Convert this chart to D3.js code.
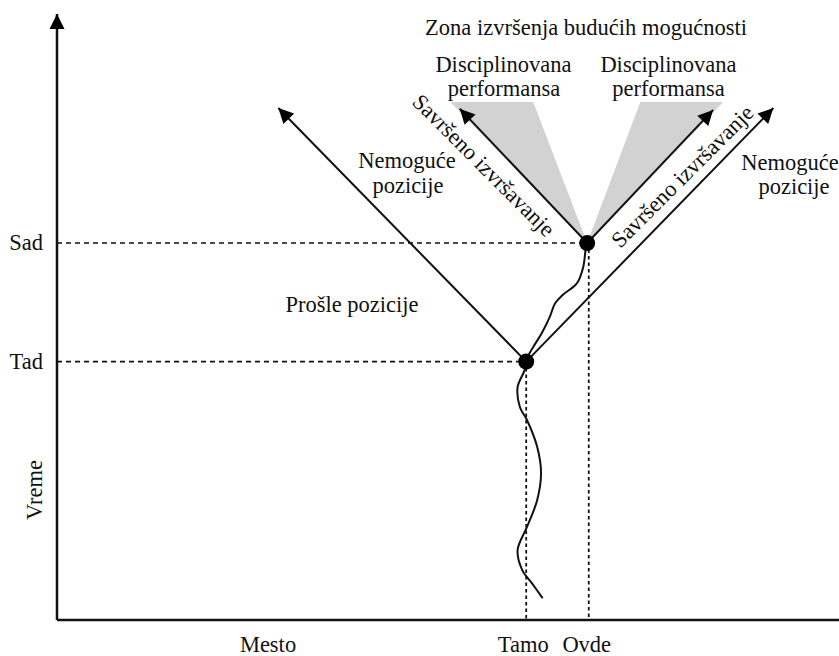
<!DOCTYPE html>
<html>
<head>
<meta charset="utf-8">
<script src="https://cdn.jsdelivr.net/npm/d3@7"></script>
<style>
  body { margin: 0; background: #fff; }
  svg text { font-family: "Liberation Serif", "Times New Roman", Times, "DejaVu Serif", serif; fill: #111; }
</style>
</head>
<body>
<svg id="chart" width="839" height="656"></svg>
<script>
// place (x) and time (y) are both in 0..100 diagram units
const placeTicks = ["Tamo", "Ovde"];
const placeValues = [60, 68];
const timeTicks = ["Tad", "Sad"];
const timeValues = [42.5, 62];

// the two moments (Tad -> Tamo, Sad -> Ovde)
const moments = [[60, 42.5], [67.8, 62]];

// light-cone arrows: start moment and arrow tip
const arrowFrom = [[60, 42.5], [60, 42.5], [67.8, 62], [67.8, 62]];
const arrowTo = [[28.3, 84.2], [91.6, 84.2], [51.5, 84.1], [83.9, 83.9]];

// grey zones of disciplined performance
const cones = [
  [[67.8, 62], [50.3, 85.2], [60.9, 85.2]],
  [[67.8, 62], [74.6, 85.2], [85.2, 85.2]]
];

// wandering path of past positions
const pastTrail = [
  [62.1, 3.6], [60.7, 6.1], [59.5, 8.2], [58.9, 11.5], [60.1, 15.3], [61.4, 19.7],
  [61.9, 24.2], [61.4, 28.5], [60.1, 32.9], [59.2, 35.0], [58.9, 38.3], [59.8, 41.1], [60, 42.5]
];
const recentTrail = [
  [60, 42.5], [60.2, 43.3], [60.9, 44.9], [62.0, 47.2], [63.0, 49.8], [63.7, 52.1],
  [64.7, 53.5], [66.5, 55.4], [67.3, 58.1], [67.6, 60.9], [67.8, 62]
];

const svg = d3.select("#chart");
const W = 839, H = 656;
const fs = "22.5px";

var x = d3.scaleLinear().domain([0, 100]).range([57, 839]);
var y = d3.scaleLinear().domain([0, 100]).range([620, 12]);

// arrow head
svg.append("defs").append("marker")
  .attr("id", "head")
  .attr("markerUnits", "userSpaceOnUse")
  .attr("viewBox", "-16 -8 17 16")
  .attr("refX", 0).attr("refY", 0)
  .attr("markerWidth", 17).attr("markerHeight", 16)
  .attr("orient", "auto")
  .append("path")
  .attr("d", "M0,0 L-15,-7.5 L-15,7.5 Z")
  .attr("fill", "#000");

// grey cones
svg.selectAll(".cone")
  .data(cones)
  .enter().append("path")
  .attr("class", "cone")
  .attr("d", d => "M" + d.map(p => x(p[0]) + "," + y(p[1])).join("L") + "Z")
  .attr("fill", "#d2d2d2");

// dashed guides
svg.selectAll(".hguide")
  .data(timeValues)
  .enter().append("line")
  .attr("class", "hguide")
  .attr("x1", x(0)).attr("x2", (d, i) => x(placeValues[i]))
  .attr("y1", d => y(d)).attr("y2", d => y(d))
  .attr("stroke", "#111").attr("stroke-width", 1.6)
  .attr("stroke-dasharray", "5,4");

svg.selectAll(".vguide")
  .data(placeValues)
  .enter().append("line")
  .attr("class", "vguide")
  .attr("x1", d => x(d)).attr("x2", d => x(d))
  .attr("y1", (d, i) => y(timeValues[i])).attr("y2", y(0))
  .attr("stroke", "#111").attr("stroke-width", 1.8)
  .attr("stroke-dasharray", "3.5,3");

// axes
svg.append("line")
  .attr("x1", x(0)).attr("y1", y(0)).attr("x2", W).attr("y2", y(0))
  .attr("stroke", "#111").attr("stroke-width", 2.5);
svg.append("line")
  .attr("x1", x(0)).attr("y1", y(0)).attr("x2", x(0)).attr("y2", y(100) + 2)
  .attr("stroke", "#111").attr("stroke-width", 2.5)
  .attr("marker-end", "url(#head)");

// cone arrows
svg.selectAll(".arrow")
  .data(arrowTo)
  .enter().append("line")
  .attr("class", "arrow")
  .attr("x1", (d, i) => x(arrowFrom[i][0])).attr("y1", (d, i) => y(arrowFrom[i][1]))
  .attr("x2", d => x(d[0])).attr("y2", d => y(d[1]))
  .attr("stroke", "#111").attr("stroke-width", 2)
  .attr("marker-end", "url(#head)");

// trails
var trail = d3.line()
  .x(d => x(d[0]))
  .y(d => y(d[1]))
  .curve(d3.curveCatmullRom);

svg.selectAll(".trail")
  .data([pastTrail, recentTrail])
  .enter().append("path")
  .attr("class", "trail")
  .attr("d", trail)
  .attr("fill", "none")
  .attr("stroke", "#111").attr("stroke-width", 2);

// moments
svg.selectAll(".moment")
  .data(moments)
  .enter().append("circle")
  .attr("class", "moment")
  .attr("cx", d => x(d[0])).attr("cy", d => y(d[1]))
  .attr("r", 8)
  .attr("fill", "#000");

// tick labels
svg.selectAll(".ptick")
  .data(placeTicks)
  .enter().append("text")
  .attr("class", "ptick")
  .attr("x", (d, i) => x(placeValues[i]) - (i === 0 ? 3 : 2))
  .attr("y", 652)
  .attr("text-anchor", "middle")
  .style("font-size", fs)
  .text(d => d);

svg.selectAll(".ttick")
  .data(timeTicks)
  .enter().append("text")
  .attr("class", "ttick")
  .attr("x", 43)
  .attr("y", (d, i) => y(timeValues[i]))
  .attr("dy", "0.33em")
  .attr("text-anchor", "end")
  .style("font-size", fs)
  .text(d => d);

svg.append("text")
  .attr("x", 268).attr("y", 652)
  .attr("text-anchor", "middle")
  .style("font-size", fs)
  .text("Mesto");

svg.append("text")
  .attr("transform", "translate(42,490) rotate(-90)")
  .attr("text-anchor", "middle")
  .style("font-size", fs)
  .text("Vreme");

// annotations
const annoText = [
  "Zona izvršenja budućih mogućnosti",
  "Disciplinovana", "performansa",
  "Disciplinovana", "performansa",
  "Nemoguće", "pozicije",
  "Nemoguće", "pozicije",
  "Prošle pozicije"
];
const annoPos = [
  [586, 35], [503.5, 72], [504, 96], [668.5, 72], [668.5, 96],
  [407, 168], [408, 193], [790, 170], [794, 194], [352, 312]
];

svg.selectAll(".anno")
  .data(annoText)
  .enter().append("text")
  .attr("class", "anno")
  .attr("x", (d, i) => annoPos[i][0])
  .attr("y", (d, i) => annoPos[i][1])
  .attr("text-anchor", "middle")
  .style("font-size", fs)
  .text(d => d);

svg.append("text")
  .attr("transform", "translate(484,165) rotate(45)")
  .attr("dy", "0.35em")
  .attr("text-anchor", "middle")
  .style("font-size", fs)
  .text("Savršeno izvršavanje");

svg.append("text")
  .attr("transform", "translate(682,176) rotate(-45)")
  .attr("dy", "0.35em")
  .attr("text-anchor", "middle")
  .style("font-size", fs)
  .text("Savršeno izvršavanje");
</script>
</body>
</html>
